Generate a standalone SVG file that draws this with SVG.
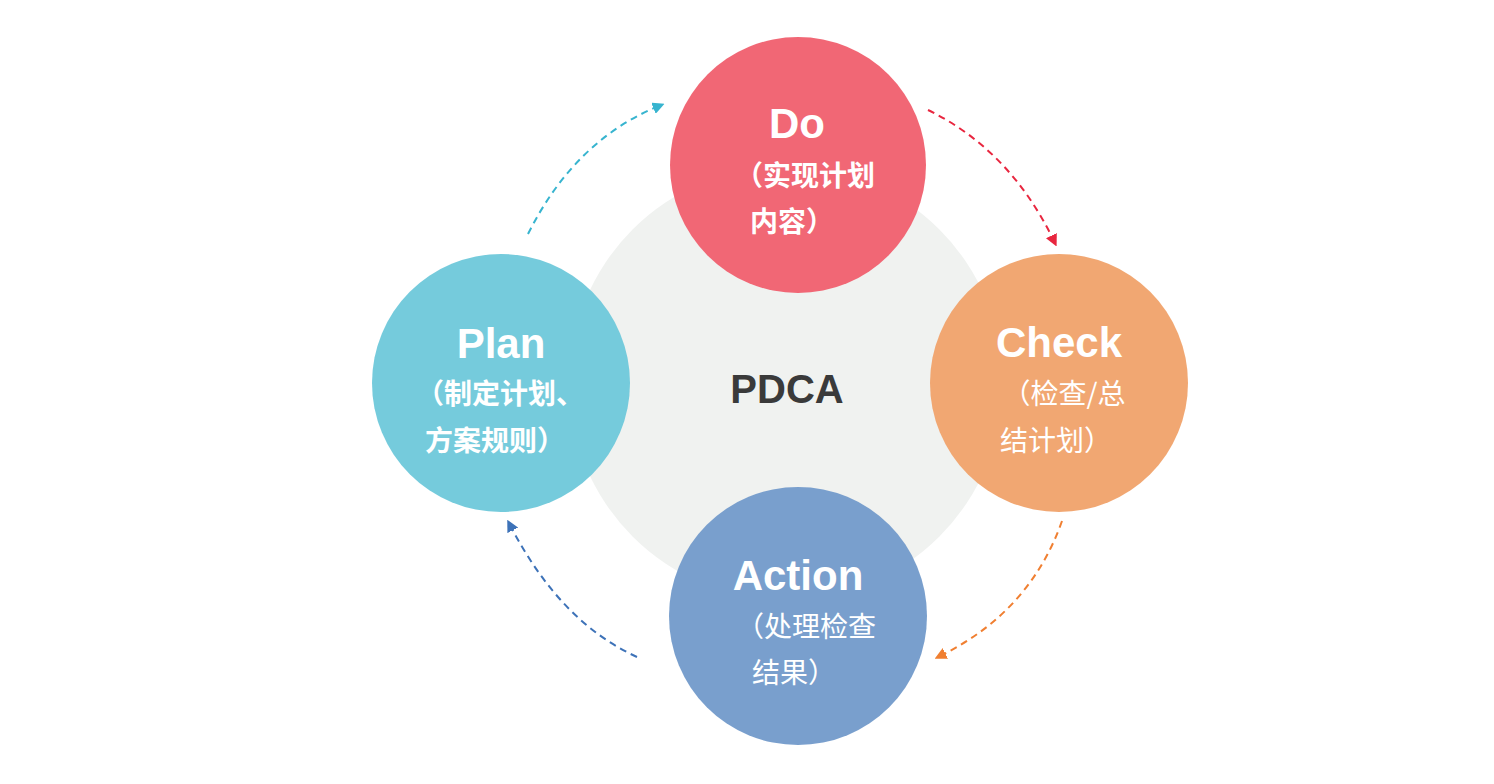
<svg xmlns="http://www.w3.org/2000/svg" width="1494" height="784" viewBox="0 0 1494 784">
<defs>
<style>
.t{font-family:"Liberation Sans","Noto Sans CJK SC",sans-serif;fill:#fff;text-anchor:middle}
.en{font-size:42px;font-weight:bold}
.cb{font-size:28px;font-weight:bold;font-family:"Noto Sans CJK SC",sans-serif}
.cr{font-size:28px;font-family:"Noto Sans CJK SC",sans-serif}
.c{fill:none;stroke-width:2;stroke-dasharray:7 5}
</style>
<marker id="mc" viewBox="0 0 10 10" refX="5" refY="5" markerWidth="6" markerHeight="6" orient="auto" markerUnits="strokeWidth"><path d="M0,0L10,5L0,10z" fill="#37B4CF"/></marker>
<marker id="mr" viewBox="0 0 10 10" refX="5" refY="5" markerWidth="6" markerHeight="6" orient="auto" markerUnits="strokeWidth"><path d="M0,0L10,5L0,10z" fill="#E8263F"/></marker>
<marker id="mo" viewBox="0 0 10 10" refX="5" refY="5" markerWidth="6" markerHeight="6" orient="auto" markerUnits="strokeWidth"><path d="M0,0L10,5L0,10z" fill="#F07F31"/></marker>
<marker id="mb" viewBox="0 0 10 10" refX="5" refY="5" markerWidth="6" markerHeight="6" orient="auto" markerUnits="strokeWidth"><path d="M0,0L10,5L0,10z" fill="#3D72B8"/></marker>
</defs>
<rect width="1494" height="784" fill="#fff"/>
<g id="center">
<circle cx="786" cy="383" r="217" fill="#F0F2F0"/>
<text x="787" y="403" style="font-family:'Liberation Sans',sans-serif;font-size:40px;font-weight:bold;fill:#3a3a3a;text-anchor:middle">PDCA</text>
</g>
<g id="do">
<circle cx="798" cy="165" r="128" fill="#F05E6C" fill-opacity="0.94"/>
<text class="t en" x="797" y="138">Do</text>
<text class="t cb" x="805" y="186">（实现计划</text>
<text class="t cb" x="792" y="232">内容）</text>
</g>
<g id="plan">
<circle cx="501" cy="383" r="129" fill="#6CC8DA" fill-opacity="0.94"/>
<text class="t en" x="501" y="358">Plan</text>
<text class="t cb" x="500" y="404">（制定计划、</text>
<text class="t cb" x="495" y="451">方案规则）</text>
</g>
<g id="check">
<circle cx="1059" cy="383" r="129" fill="#F0A26A" fill-opacity="0.95"/>
<text class="t en" x="1059" y="357">Check</text>
<text class="t cr" x="1064" y="404">（检查/总</text>
<text class="t cr" x="1056" y="451">结计划）</text>
</g>
<g id="action">
<circle cx="798" cy="616" r="129" fill="#729ACA" fill-opacity="0.95"/>
<text class="t en" x="798" y="590">Action</text>
<text class="t cr" x="806" y="637">（处理检查</text>
<text class="t cr" x="794" y="683">结果）</text>
</g>
<g id="connectors">
<path class="c" stroke="#37B4CF" d="M528,234 Q575,140 659,106" marker-end="url(#mc)"/>
<path class="c" stroke="#E8263F" d="M928,110 Q1010,150 1054,241" marker-end="url(#mr)"/>
<path class="c" stroke="#F07F31" d="M1062,521 Q1030,612 940,656" marker-end="url(#mo)"/>
<path class="c" stroke="#3D72B8" d="M637,657 Q560,622 510,525" marker-end="url(#mb)"/>
</g>
</svg>
